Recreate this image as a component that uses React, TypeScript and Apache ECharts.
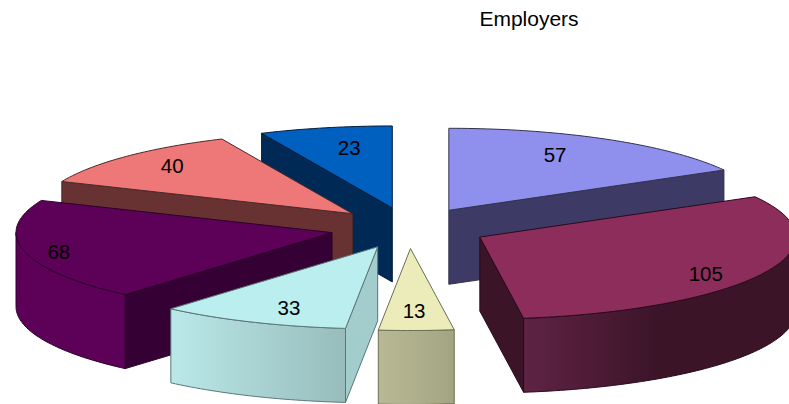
import React, { useEffect, useRef } from "react";
import * as echarts from "echarts";

const TITLE = "Employers";
const employers = [57, 105, 13, 33, 68, 40, 23];

const topColors = ["#8f8fee", "#8c2d5c", "#ececbb", "#bbeeee", "#5c0058", "#ee7777", "#0060c0"];
const wallColors = ["#3e3a66", "#3b1428", "#a9a986", "#a3cccc", "#350033", "#683232", "#002a55"];
const arcLeftColors = ["#3e3a66", "#5f2344", "#b8b994", "#bae8e8", "#5c0058", "#683232", "#002a55"];
const arcMidColors = ["#3e3a66", "#3b1428", "#aeaf8b", "#a9d2d2", "#5c0058", "#683232", "#002a55"];
const arcRightColors = ["#3e3a66", "#3b1428", "#a3a481", "#98bcbc", "#5c0058", "#683232", "#002a55"];
const strokeColors = ["#33334d", "#2a0a1c", "#6d6d55", "#5c7676", "#2a002a", "#4a2a2a", "#001c3a"];
const labelNudge = [[-18, -1], [5, 8], [-1, -2], [9, 2], [-33, 4.5], [-4, -3], [9, 2.5]];

const PIE = { cx: 409, cy: 228, rx: 316, ry: 82, depth: 74, explode: 0.25, labelAt: 0.78 };

const total = employers.reduce((s, v) => s + v, 0);
const slices = employers.map((v, i) => {
  const before = employers.slice(0, i).reduce((s, x) => s + x, 0);
  const start = (before / total) * Math.PI * 2;
  const end = ((before + v) / total) * Math.PI * 2;
  const mid = (start + end) / 2;
  return { start, end, mid };
});
const drawOrder = employers.map((_, i) => i).sort((a, b) => Math.cos(slices[b].mid) - Math.cos(slices[a].mid));

function renderSlice(_params: any, api: any) {
  const i = api.value(1) as number;
  const { start, end, mid } = slices[i];
  const ax = PIE.cx + PIE.rx * PIE.explode * Math.sin(mid);
  const ay = PIE.cy - PIE.ry * PIE.explode * Math.cos(mid);
  const rim = (t: number, f = 1): number[] => [ax + PIE.rx * f * Math.sin(t), ay - PIE.ry * f * Math.cos(t)];
  const down = (p: number[]) => [p[0], p[1] + PIE.depth];
  const arc = (a: number, b: number) => {
    const n = Math.max(2, Math.ceil(Math.abs(b - a) / 0.02));
    const pts: number[][] = [];
    for (let k = 0; k <= n; k++) pts.push(rim(a + ((b - a) * k) / n));
    return pts;
  };
  const stroke = strokeColors[i];
  const base = { stroke, lineWidth: 1, lineJoin: "round" };
  const children: any[] = [];
  const wall = (t: number) => {
    const e = rim(t);
    children.push({
      type: "polygon",
      shape: { points: [[ax, ay], e, down(e), [ax, ay + PIE.depth]] },
      style: { ...base, fill: wallColors[i] },
    });
  };
  if (Math.sin(start) < 0) wall(start);
  if (Math.sin(end) > 0) wall(end);
  const a0 = Math.max(start, Math.PI / 2);
  const a1 = Math.min(end, (Math.PI * 3) / 2);
  if (a1 > a0) {
    const top = arc(a0, a1);
    children.push({
      type: "polygon",
      shape: { points: [...top, ...top.map(down).reverse()] },
      style: {
        ...base,
        fill: new echarts.graphic.LinearGradient(0, 0, 1, 0, [
          { offset: 0, color: arcLeftColors[i] },
          { offset: 0.5, color: arcMidColors[i] },
          { offset: 1, color: arcRightColors[i] },
        ]),
      },
    });
  }
  children.push({
    type: "polygon",
    shape: { points: [[ax, ay], ...arc(start, end)] },
    style: { ...base, fill: topColors[i] },
  });
  const lp = rim(mid, PIE.labelAt);
  children.push({
    type: "text",
    x: lp[0] + labelNudge[i][0],
    y: lp[1] + labelNudge[i][1],
    style: {
      text: String(api.value(0)),
      fill: "#000",
      font: "20.5px 'Liberation Sans', Arial, sans-serif",
      textAlign: "center",
      textVerticalAlign: "middle",
    },
  });
  return { type: "group", children };
}

export default function App() {
  const ref = useRef<HTMLDivElement>(null);
  useEffect(() => {
    document.body.style.margin = "0";
    const chart = echarts.init(ref.current as HTMLDivElement, undefined, { renderer: "svg" });
    chart.setOption({
      animation: false,
      backgroundColor: "#fff",
      title: {
        text: TITLE,
        left: 524,
        top: 3,
        textAlign: "center",
        textStyle: { color: "#000", fontFamily: "'Liberation Sans', Arial, sans-serif", fontSize: 21, fontWeight: "normal" },
      },
      series: [
        {
          type: "custom",
          coordinateSystem: "none",
          silent: true,
          renderItem: renderSlice,
          data: drawOrder.map((i) => ({ value: [employers[i], i] })),
        },
      ],
    });
    return () => chart.dispose();
  }, []);
  return <div ref={ref} style={{ position: "absolute", left: 0, top: 0, width: 789, height: 404, overflow: "hidden" }} />;
}
